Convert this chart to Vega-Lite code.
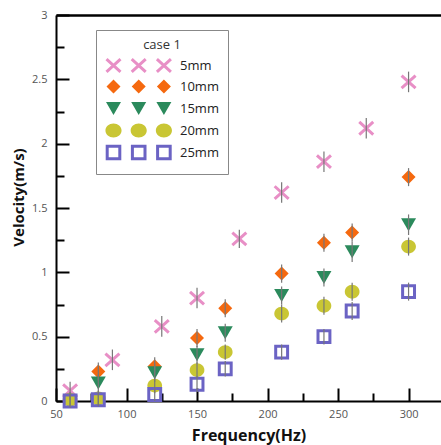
{
  "$schema": "https://vega.github.io/schema/vega-lite/v6.json",
  "width": 385,
  "height": 386,
  "autosize": "none",
  "padding": {"left": 56, "top": 15, "right": 0, "bottom": 44},
  "background": "white",
  "config": {
    "font": "Open Sans",
    "view": {"stroke": "#aaaaaa", "strokeWidth": 1},
    "axis": {"labelFont": "Open Sans", "titleFont": "Open Sans"},
    "legend": {
      "titleAnchor": "middle", "titleFontSize": 13, "titleFontWeight": "normal", "titleColor": "#333",
      "titlePadding": 5, "labelFontSize": 13, "labelColor": "#222", "labelOffset": 58,
      "symbolSize": 196, "symbolStrokeWidth": 3, "symbolOpacity": 1, "padding": 9, "strokeColor": "#888",
      "fillColor": "white", "rowPadding": -9.5
    }
  },
  "data": {
    "values": [
      {"series": "5mm", "freq": 60, "v": 0.08, "err": 0.07},
      {"series": "5mm", "freq": 90, "v": 0.32, "err": 0.08},
      {"series": "5mm", "freq": 125, "v": 0.58, "err": 0.08},
      {"series": "5mm", "freq": 150, "v": 0.80, "err": 0.08},
      {"series": "5mm", "freq": 180, "v": 1.26, "err": 0.07},
      {"series": "5mm", "freq": 210, "v": 1.62, "err": 0.08},
      {"series": "5mm", "freq": 240, "v": 1.86, "err": 0.08},
      {"series": "5mm", "freq": 270, "v": 2.12, "err": 0.08},
      {"series": "5mm", "freq": 300, "v": 2.48, "err": 0.08},
      {"series": "10mm", "freq": 80, "v": 0.23, "err": 0.07},
      {"series": "10mm", "freq": 120, "v": 0.27, "err": 0.07},
      {"series": "10mm", "freq": 150, "v": 0.49, "err": 0.07},
      {"series": "10mm", "freq": 170, "v": 0.72, "err": 0.07},
      {"series": "10mm", "freq": 210, "v": 0.99, "err": 0.07},
      {"series": "10mm", "freq": 240, "v": 1.23, "err": 0.07},
      {"series": "10mm", "freq": 260, "v": 1.31, "err": 0.07},
      {"series": "10mm", "freq": 300, "v": 1.74, "err": 0.07},
      {"series": "15mm", "freq": 80, "v": 0.14, "err": 0.07},
      {"series": "15mm", "freq": 120, "v": 0.22, "err": 0.07},
      {"series": "15mm", "freq": 150, "v": 0.36, "err": 0.07},
      {"series": "15mm", "freq": 170, "v": 0.53, "err": 0.07},
      {"series": "15mm", "freq": 210, "v": 0.82, "err": 0.07},
      {"series": "15mm", "freq": 240, "v": 0.96, "err": 0.07},
      {"series": "15mm", "freq": 260, "v": 1.16, "err": 0.08},
      {"series": "15mm", "freq": 300, "v": 1.37, "err": 0.08},
      {"series": "20mm", "freq": 60, "v": 0.01, "err": 0.06},
      {"series": "20mm", "freq": 80, "v": 0.02, "err": 0.06},
      {"series": "20mm", "freq": 120, "v": 0.12, "err": 0.06},
      {"series": "20mm", "freq": 150, "v": 0.24, "err": 0.06},
      {"series": "20mm", "freq": 170, "v": 0.38, "err": 0.06},
      {"series": "20mm", "freq": 210, "v": 0.68, "err": 0.07},
      {"series": "20mm", "freq": 240, "v": 0.74, "err": 0.07},
      {"series": "20mm", "freq": 260, "v": 0.85, "err": 0.07},
      {"series": "20mm", "freq": 300, "v": 1.20, "err": 0.07},
      {"series": "25mm", "freq": 60, "v": 0.0, "err": 0.05},
      {"series": "25mm", "freq": 80, "v": 0.01, "err": 0.05},
      {"series": "25mm", "freq": 120, "v": 0.05, "err": 0.05},
      {"series": "25mm", "freq": 150, "v": 0.13, "err": 0.06},
      {"series": "25mm", "freq": 170, "v": 0.25, "err": 0.06},
      {"series": "25mm", "freq": 210, "v": 0.38, "err": 0.06},
      {"series": "25mm", "freq": 240, "v": 0.50, "err": 0.06},
      {"series": "25mm", "freq": 260, "v": 0.70, "err": 0.07},
      {"series": "25mm", "freq": 300, "v": 0.85, "err": 0.07}
    ]
  },
  "resolve": {
    "axis": {"x": "independent", "y": "independent"},
    "scale": {"shape": "independent"},
    "legend": {"shape": "independent", "fill": "independent", "stroke": "independent"}
  },
  "layer": [
    {
      "mark": {"type": "point", "filled": false, "strokeWidth": 3, "opacity": 1, "size": 196},
      "encoding": {
        "x": {
          "field": "freq", "type": "quantitative",
          "scale": {"domain": [50, 323], "nice": false, "zero": false},
          "axis": {
            "orient": "bottom", "values": [50, 100, 150, 200, 250, 300],
            "title": "Frequency(Hz)", "titleFontSize": 16, "titleFontWeight": "bold", "titleColor": "#111",
            "titlePadding": 8,
            "domainColor": "#000", "domainWidth": 2,
            "tickColor": "#000", "tickWidth": 2, "tickSize": -13,
            "labelColor": "#555", "labelFontSize": 11, "labelPadding": 20,
            "labelFlush": false, "labelOverlap": false,
            "grid": false
          }
        },
        "y": {
          "field": "v", "type": "quantitative",
          "scale": {"domain": [0, 3], "nice": false},
          "axis": {
            "orient": "left", "values": [0, 0.5, 1, 1.5, 2, 2.5, 3], "format": "~g",
            "title": "Velocity(m/s)", "titleFontSize": 15, "titleFontWeight": "bold", "titleColor": "#111",
            "titlePadding": 5, "titleY": 182,
            "domainColor": "#000", "domainWidth": 2,
            "tickColor": "#000", "tickWidth": 2, "tickSize": -13,
            "labelColor": "#555", "labelFontSize": 11, "labelPadding": 22,
            "labelFlush": false, "labelOverlap": false,
            "grid": false
          }
        },
        "shape": {
          "field": "series", "type": "nominal",
          "scale": {
            "domain": ["5mm", "10mm", "15mm", "20mm", "25mm"],
            "range": [
              "M-1,-0.9L1,0.9M-1,0.9L1,-0.9",
              "M0,-1L1,0L0,1L-1,0Z",
              "M-1.07,-0.93L1.07,-0.93L0,0.93Z",
              "M-1.05,0A1.05,0.98 0 1,0 1.05,0A1.05,0.98 0 1,0 -1.05,0Z",
              "M-0.85,-0.85H0.85V0.85H-0.85Z"
            ]
          },
          "legend": null
        },
        "fill": {
          "field": "series", "type": "nominal",
          "scale": {
            "domain": ["5mm", "10mm", "15mm", "20mm", "25mm"],
            "range": ["transparent", "#f5690f", "#2b8a5c", "#c9c634", "transparent"]
          },
          "legend": null
        },
        "stroke": {
          "field": "series", "type": "nominal",
          "scale": {
            "domain": ["5mm", "10mm", "15mm", "20mm", "25mm"],
            "range": ["#e88fc6", "transparent", "transparent", "transparent", "#6b63c4"]
          },
          "legend": null
        }
      }
    },
    {
      "mark": {"type": "rule", "color": "#777777", "strokeWidth": 1.2},
      "encoding": {
        "x": {
          "field": "freq", "type": "quantitative",
          "axis": {
            "orient": "bottom", "values": [75, 125, 175, 225, 275], "labels": false, "domain": false,
            "tickColor": "#000", "tickWidth": 2, "tickSize": -8, "title": null, "grid": false
          }
        },
        "y": {
          "field": "lo", "type": "quantitative",
          "axis": {
            "orient": "left", "values": [0.25, 0.75, 1.25, 1.75, 2.25, 2.75], "labels": false, "domain": false,
            "tickColor": "#000", "tickWidth": 2, "tickSize": -8, "title": null, "grid": false
          }
        },
        "y2": {"field": "hi"}
      },
      "transform": [
        {"calculate": "datum.v - datum.err", "as": "lo"},
        {"calculate": "datum.v + datum.err", "as": "hi"}
      ]
    },
    {
      "mark": {"type": "point", "opacity": 0, "filled": false, "strokeWidth": 3, "size": 196},
      "encoding": {
        "x": {
          "field": "freq", "type": "quantitative",
          "axis": {
            "orient": "top", "labels": false, "ticks": false, "domain": true,
            "domainColor": "#000", "domainWidth": 2.5, "title": null, "grid": false
          }
        },
        "y": {"field": "v", "type": "quantitative", "axis": null},
        "shape": {
          "field": "series", "type": "nominal",
          "scale": {
            "domain": ["5mm", "10mm", "15mm", "20mm", "25mm"],
            "range": [
              "M-1,-0.9L1,0.9M-1,0.9L1,-0.9M2.6,-0.9L4.6,0.9M2.6,0.9L4.6,-0.9M6.2,-0.9L8.2,0.9M6.2,0.9L8.2,-0.9",
              "M0,-1L1,0L0,1L-1,0ZM3.6,-1L4.6,0L3.6,1L2.6,0ZM7.2,-1L8.2,0L7.2,1L6.2,0Z",
              "M-1.07,-0.93L1.07,-0.93L0,0.93ZM2.53,-0.93L4.67,-0.93L3.6,0.93ZM6.13,-0.93L8.27,-0.93L7.2,0.93Z",
              "M-1.15,0A1.15,1 0 1,0 1.15,0A1.15,1 0 1,0 -1.15,0ZM2.45,0A1.15,1 0 1,0 4.75,0A1.15,1 0 1,0 2.45,0ZM6.05,0A1.15,1 0 1,0 8.35,0A1.15,1 0 1,0 6.05,0Z",
              "M-0.9,-0.9H0.9V0.9H-0.9ZM2.7,-0.9H4.5V0.9H2.7ZM6.3,-0.9H8.1V0.9H6.3Z"
            ]
          },
          "legend": {"orient": "none", "legendX": 40, "legendY": 15, "title": "case 1"}
        },
        "fill": {
          "field": "series", "type": "nominal",
          "legend": {"orient": "none", "legendX": 40, "legendY": 15, "title": "case 1"}
        },
        "stroke": {
          "field": "series", "type": "nominal",
          "legend": {"orient": "none", "legendX": 40, "legendY": 15, "title": "case 1"}
        }
      }
    }
  ]
}
